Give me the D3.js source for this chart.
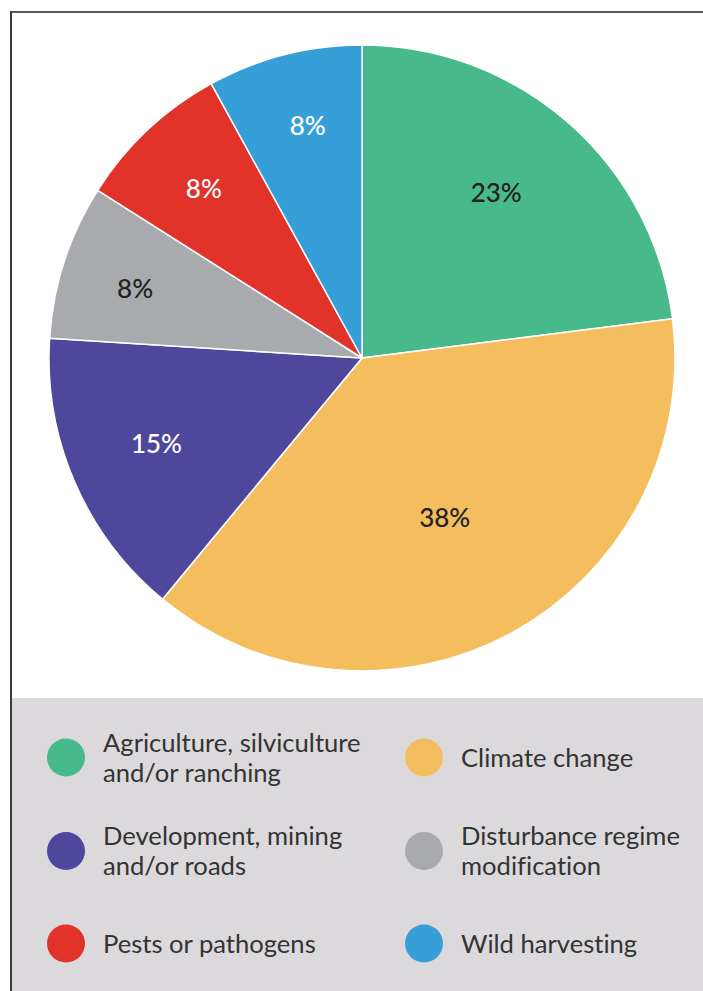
<!DOCTYPE html>
<html>
<head>
<meta charset="utf-8">
<script src="https://cdn.jsdelivr.net/npm/d3@7"></script>
<style>
  html, body { margin: 0; padding: 0; background: #fff; }
  svg { display: block; }
  text { font-variant-ligatures: none; font-feature-settings: "liga" 0; }
</style>
</head>
<body>
<svg id="chart" width="703" height="991"></svg>
<script>
// Threat categories, share of total (%), and slice colours
const categories = [
  "Agriculture, silviculture and/or ranching",
  "Climate change",
  "Development, mining and/or roads",
  "Disturbance regime modification",
  "Pests or pathogens",
  "Wild harvesting"
];
const values = [23, 38, 15, 8, 8, 8];
const colors = ["#48b98a", "#f4be5f", "#4e479b", "#a9aaad", "#e1332a", "#369fd8"];
const labelColors = ["#222", "#222", "#fff", "#222", "#fff", "#fff"];
// Legend text split into lines
const legendLines = [
  ["Agriculture, silviculture", "and/or ranching"],
  ["Climate change"],
  ["Development, mining", "and/or roads"],
  ["Disturbance regime", "modification"],
  ["Pests or pathogens"],
  ["Wild harvesting"]
];

const svg = d3.select("#chart");
const W = 703, H = 991;
const font = "Lato, 'Open Sans', sans-serif";

// Frame lines (top and left)
svg.append("line").attr("x1", 10).attr("x2", 703).attr("y1", 12).attr("y2", 12)
  .attr("stroke", "#5a5a5a").attr("stroke-width", 2);
svg.append("line").attr("x1", 11).attr("x2", 11).attr("y1", 11).attr("y2", H)
  .attr("stroke", "#3a3a3a").attr("stroke-width", 2);

// Pie
const cx = 362, cy = 358, R = 313;
const data = categories.map((c, i) => ({ name: c, value: values[i], i }));
const pie = d3.pie().value(d => d.value).sort(null);
const arc = d3.arc().innerRadius(0).outerRadius(R);
const arcs = pie(data);

const g = svg.append("g").attr("transform", `translate(${cx},${cy})`);
g.selectAll("path").data(arcs).join("path")
  .attr("d", arc)
  .attr("fill", d => colors[d.data.i])
  .attr("stroke", "#fff")
  .attr("stroke-width", 1.5)
  .attr("stroke-linejoin", "round");

// Percentage labels, placed near each slice's mid-angle
const labelRadius = [212, 181, 223, 237, 231, 238];
const labelTurn = [-2.1, 1.6, 0.6, -1.2, 0, 1.2]; // degrees
const labelAngle = d => (d.startAngle + d.endAngle) / 2 + labelTurn[d.data.i] * Math.PI / 180;
g.selectAll("text.pct").data(arcs).join("text")
  .attr("class", "pct")
  .attr("x", d => labelRadius[d.data.i] * Math.sin(labelAngle(d)))
  .attr("y", d => -labelRadius[d.data.i] * Math.cos(labelAngle(d)))
  .attr("dy", -1.5)
  .attr("text-anchor", "middle")
  .attr("dominant-baseline", "central")
  .attr("font-family", font)
  .attr("font-size", 26)
  .attr("font-weight", 500)
  .attr("fill", d => labelColors[d.data.i])
  .text(d => d.data.value + "%");

// Legend panel
svg.append("rect").attr("x", 12).attr("y", 698).attr("width", W - 12).attr("height", H - 698)
  .attr("fill", "#dcd9dc");

const colX = [66, 424];
const rowY = [757.5, 851, 943.5];
const lineH = 30;
const items = svg.selectAll("g.legend").data(data).join("g")
  .attr("class", "legend")
  .attr("transform", d => `translate(${colX[d.i % 2]},${rowY[Math.floor(d.i / 2)]})`);
items.append("circle").attr("r", 19).attr("fill", d => colors[d.i]);
items.append("text")
  .attr("font-family", font)
  .attr("font-size", 25.6)
  .attr("fill", "#333")
  .each(function(d) {
    const lines = legendLines[d.i];
    const t = d3.select(this);
    const y0 = 9 - (lines.length - 1) * lineH / 2;
    lines.forEach((s, k) => {
      t.append("tspan").attr("x", 37).attr("y", y0 + k * lineH).text(s);
    });
  });
</script>
</body>
</html>
